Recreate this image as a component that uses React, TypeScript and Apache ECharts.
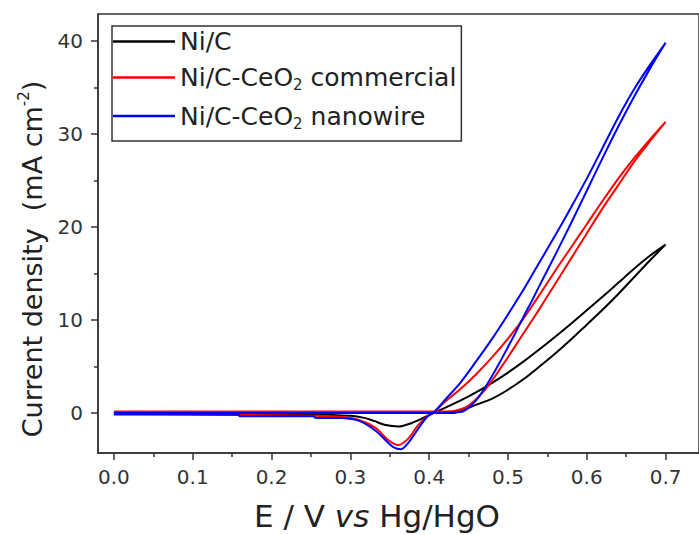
import React, { useEffect, useRef } from 'react';
import * as echarts from 'echarts';

const FONT = "'DejaVu Sans', 'Liberation Sans', Arial, sans-serif";

const seriesNames = ['Ni/C', 'Ni/C-CeO2 commercial', 'Ni/C-CeO2 nanowire'];
const seriesColors = ['#000000', '#ff0000', '#0000ff'];

const xMajorTicks = [0, 0.1, 0.2, 0.3, 0.4, 0.5, 0.6, 0.7];
const xMinorTicks = [0.05, 0.15, 0.25, 0.35, 0.45, 0.55, 0.65];
const yMajorTicks = [0, 10, 20, 30, 40];
const yMinorTicks = [5, 15, 25, 35];

// Ni/C : anodic sweep then cathodic sweep, [E (V), j (mA cm-2)]
const niCForward = [
  [0.0, -0.02], [0.1, 0.0], [0.2, 0.0], [0.3, 0.0], [0.38, 0.0], [0.43, 0.0], [0.44, 0.2],
  [0.45, 0.55], [0.46, 0.9], [0.48, 1.55], [0.5, 2.5], [0.52, 3.65], [0.54, 5.0], [0.56, 6.4],
  [0.58, 7.9], [0.6, 9.5], [0.62, 11.1], [0.64, 12.8], [0.66, 14.6], [0.68, 16.4], [0.7, 18.1],
];
const niCReverse = [
  [0.7, 18.1], [0.68, 16.9], [0.66, 15.5], [0.64, 14.0], [0.62, 12.5], [0.6, 11.05],
  [0.58, 9.6], [0.56, 8.2], [0.54, 6.85], [0.52, 5.55], [0.5, 4.35], [0.48, 3.25], [0.46, 2.25],
  [0.44, 1.35], [0.42, 0.55], [0.405, 0.0], [0.395, -0.43], [0.378, -1.07], [0.361, -1.45],
  [0.345, -1.3], [0.33, -0.85], [0.319, -0.55], [0.3, -0.3], [0.25, -0.15], [0.1, -0.1],
  [0.0, -0.1],
];

// Ni/C-CeO2 commercial
const commForward = [
  [0.0, 0.15], [0.2, 0.15], [0.38, 0.15], [0.43, 0.2], [0.44, 0.4], [0.45, 0.8], [0.46, 1.5],
  [0.47, 2.4], [0.48, 3.5], [0.49, 4.75], [0.5, 6.0], [0.51, 7.3], [0.52, 8.6], [0.54, 11.2],
  [0.56, 13.9], [0.58, 16.6], [0.6, 19.3], [0.62, 22.0], [0.64, 24.5], [0.66, 27.0],
  [0.68, 29.2], [0.7, 31.3],
];
const commReverse = [
  [0.7, 31.3], [0.68, 29.4], [0.66, 27.4], [0.64, 25.2], [0.62, 22.8], [0.6, 20.3],
  [0.58, 17.8], [0.56, 15.3], [0.54, 12.7], [0.52, 10.2], [0.5, 8.0], [0.48, 6.0], [0.46, 4.2],
  [0.44, 2.6], [0.42, 1.2], [0.405, 0.0], [0.399, -0.25], [0.386, -1.3], [0.374, -2.7],
  [0.361, -3.45], [0.348, -2.9], [0.332, -1.6], [0.311, -0.75], [0.289, -0.43], [0.25, -0.3],
  [0.1, -0.15], [0.0, -0.1],
];

// Ni/C-CeO2 nanowire
const wireForward = [
  [0.0, 0.0], [0.2, 0.0], [0.38, 0.0], [0.44, 0.1], [0.45, 0.55], [0.46, 1.4], [0.47, 2.6],
  [0.48, 4.0], [0.49, 5.5], [0.5, 7.1], [0.51, 8.7], [0.52, 10.4], [0.53, 12.0], [0.54, 13.7],
  [0.56, 17.0], [0.58, 20.4], [0.6, 23.9], [0.62, 27.4], [0.64, 30.8], [0.66, 34.0],
  [0.68, 37.0], [0.7, 39.8],
];
const wireReverse = [
  [0.7, 39.8], [0.68, 37.4], [0.66, 34.8], [0.64, 31.8], [0.62, 28.5], [0.6, 25.2],
  [0.58, 22.1], [0.56, 19.1], [0.54, 16.2], [0.52, 13.3], [0.5, 10.6], [0.48, 8.0], [0.46, 5.6],
  [0.44, 3.3], [0.42, 1.4], [0.405, 0.0], [0.398, -0.35], [0.386, -1.7], [0.374, -3.15],
  [0.364, -3.9], [0.355, -3.7], [0.348, -3.2], [0.332, -1.9], [0.311, -0.85], [0.289, -0.55],
  [0.255, -0.5], [0.254, -0.35], [0.16, -0.35], [0.157, -0.18], [0.0, -0.15],
];

const seriesData = [
  niCForward.concat(niCReverse),
  commForward.concat(commReverse),
  wireForward.concat(wireReverse),
];

const legendLabels: Record<string, string> = {
  'Ni/C': '{a|Ni/C}',
  'Ni/C-CeO2 commercial': '{a|Ni/C-CeO}{s|2}{a| commercial}',
  'Ni/C-CeO2 nanowire': '{a|Ni/C-CeO}{s|2}{a| nanowire}',
};

const X_MIN = -0.0202;
const X_MAX = 0.7424;
const Y_MIN = -4.3;
const Y_MAX = 42.9;

const AXIS_COLOR = '#333333';
const TEXT_COLOR = '#222222';

export default function App() {
  const ref = useRef<HTMLDivElement>(null);

  useEffect(() => {
    if (!ref.current) return;
    const chart = echarts.init(ref.current, undefined, { renderer: 'svg' });

    const tickLabel = {
      fontFamily: FONT,
      fontSize: 20,
      color: AXIS_COLOR,
    };

    const option: any = {
      animation: false,
      backgroundColor: '#ffffff',
      grid: {
        left: 98,
        right: -3,
        top: 14,
        bottom: 82,
        show: true,
        borderColor: AXIS_COLOR,
        borderWidth: 1.5,
        backgroundColor: 'transparent',
      },
      xAxis: [
        {
          type: 'value',
          min: X_MIN,
          max: X_MAX,
          position: 'bottom',
          axisLine: { show: true, onZero: false, lineStyle: { color: AXIS_COLOR, width: 1.5 } },
          axisTick: {
            show: true,
            inside: false,
            length: 7,
            customValues: xMajorTicks,
            lineStyle: { color: AXIS_COLOR, width: 1.5 },
          },
          axisLabel: {
            show: true,
            customValues: xMajorTicks,
            margin: 14,
            formatter: (v: number) => v.toFixed(1),
            ...tickLabel,
          },
          splitLine: { show: false },
        },
        {
          type: 'value',
          min: X_MIN,
          max: X_MAX,
          position: 'bottom',
          axisLine: { show: false, onZero: false },
          axisTick: {
            show: true,
            inside: false,
            length: 4,
            customValues: xMinorTicks,
            lineStyle: { color: AXIS_COLOR, width: 1.5 },
          },
          axisLabel: { show: false },
          splitLine: { show: false },
        },
      ],
      yAxis: [
        {
          type: 'value',
          min: Y_MIN,
          max: Y_MAX,
          position: 'left',
          axisLine: { show: true, onZero: false, lineStyle: { color: AXIS_COLOR, width: 1.5 } },
          axisTick: {
            show: true,
            inside: false,
            length: 7,
            customValues: yMajorTicks,
            lineStyle: { color: AXIS_COLOR, width: 1.5 },
          },
          axisLabel: {
            show: true,
            customValues: yMajorTicks,
            margin: 15,
            formatter: (v: number) => String(v),
            ...tickLabel,
          },
          splitLine: { show: false },
        },
        {
          type: 'value',
          min: Y_MIN,
          max: Y_MAX,
          position: 'left',
          axisLine: { show: false, onZero: false },
          axisTick: {
            show: true,
            inside: false,
            length: 4,
            customValues: yMinorTicks,
            lineStyle: { color: AXIS_COLOR, width: 1.5 },
          },
          axisLabel: { show: false },
          splitLine: { show: false },
        },
      ],
      legend: {
        data: seriesNames,
        orient: 'vertical',
        left: 112,
        top: 26,
        icon: 'rect',
        itemWidth: 62,
        itemHeight: 2.5,
        itemGap: 11,
        padding: [3, 5, 10, 1],
        borderColor: AXIS_COLOR,
        borderWidth: 1.5,
        backgroundColor: '#ffffff',
        selectedMode: false,
        formatter: (name: string) => legendLabels[name] || name,
        textStyle: {
          fontFamily: FONT,
          fontSize: 25,
          color: TEXT_COLOR,
          rich: {
            a: { fontFamily: FONT, fontSize: 25, lineHeight: 30, color: TEXT_COLOR },
            s: { fontFamily: FONT, fontSize: 15, lineHeight: 12, verticalAlign: 'bottom', color: TEXT_COLOR },
          },
        },
      },
      series: seriesNames.map((name, i) => ({
        name,
        type: 'line',
        xAxisIndex: 0,
        yAxisIndex: 0,
        data: seriesData[i],
        symbol: 'none',
        smooth: 0.3,
        clip: true,
        lineStyle: { color: seriesColors[i], width: 2 },
        itemStyle: { color: seriesColors[i] },
        z: 2 + i,
      })),
      graphic: [
        {
          type: 'text',
          x: 32,
          y: 259,
          rotation: Math.PI / 2,
          style: {
            text: '{a|Current density  (mA cm}{sup|-2}{a|)}',
            align: 'center',
            verticalAlign: 'middle',
            fill: TEXT_COLOR,
            rich: {
              a: { fontFamily: FONT, fontSize: 27, lineHeight: 32, fill: TEXT_COLOR, color: TEXT_COLOR },
              sup: { fontFamily: FONT, fontSize: 15, lineHeight: 14, verticalAlign: 'top', fill: TEXT_COLOR, color: TEXT_COLOR },
            },
          },
        },
        {
          type: 'text',
          x: 377,
          y: 516,
          style: {
            text: '{a|E / V }{i|vs}{a| Hg/HgO}',
            align: 'center',
            verticalAlign: 'middle',
            fill: TEXT_COLOR,
            rich: {
              a: { fontFamily: FONT, fontSize: 31, fill: TEXT_COLOR, color: TEXT_COLOR },
              i: { fontFamily: FONT, fontSize: 31, fontStyle: 'italic', fill: TEXT_COLOR, color: TEXT_COLOR },
            },
          },
        },
      ],
    };

    chart.setOption(option);
    return () => chart.dispose();
  }, []);

  return (
    <div
      ref={ref}
      style={{ position: 'fixed', left: 0, top: 0, width: 699, height: 535, background: '#fff' }}
    />
  );
}
